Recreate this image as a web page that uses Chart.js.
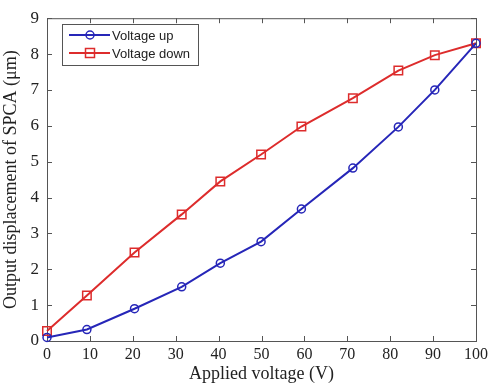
<!DOCTYPE html>
<html lang="en">
<head>
  <meta charset="UTF-8">
  <title>SPCA displacement</title>
  <script src="https://cdn.jsdelivr.net/npm/chart.js"></script>
  <style>
    html, body { margin: 0; padding: 0; background: #fff; }
    canvas { display: block; }
  </style>
</head>
<body>
  <canvas id="spcaChart" width="492" height="385"></canvas>

  <script>
    // applied voltage (V) at each measuring point
    const voltage = [0, 9.3, 20.4, 31.4, 40.4, 49.9, 59.3, 71.3, 81.9, 90.4, 100];
    // output displacement (um)
    const voltageUp = [0.1, 0.32, 0.9, 1.51, 2.17, 2.77, 3.68, 4.82, 5.97, 7.0, 8.3];
    const voltageDown = [0.28, 1.27, 2.47, 3.53, 4.45, 5.2, 5.98, 6.77, 7.54, 7.97, 8.3];
    const seriesNames = ['Voltage up', 'Voltage down'];
    const xTicks = [0, 10, 20, 30, 40, 50, 60, 70, 80, 90, 100];
    const yTicks = [0, 1, 2, 3, 4, 5, 6, 7, 8, 9];

    const BLUE = '#2626b8';
    const RED = '#dd2c2c';
    const FRAME = '#555';

    const toPoints = ys => ys.map((y, i) => ({ x: voltage[i], y: y }));

    // MATLAB style box with inward ticks on all four sides
    const frameTicks = {
      id: 'frameTicks',
      beforeDatasetsDraw(chart) {
        const { ctx, chartArea: a, scales: { x, y } } = chart;
        const len = 5;
        ctx.save();
        ctx.strokeStyle = FRAME;
        ctx.lineWidth = 1;
        ctx.strokeRect(a.left + 0.5, a.top + 0.5, a.right - a.left, a.bottom - a.top);
        ctx.beginPath();
        xTicks.forEach(v => {
          const px = Math.round(x.getPixelForValue(v)) + 0.5;
          ctx.moveTo(px, a.bottom); ctx.lineTo(px, a.bottom - len);
          ctx.moveTo(px, a.top); ctx.lineTo(px, a.top + len);
        });
        yTicks.forEach(v => {
          const py = Math.round(y.getPixelForValue(v)) + 0.5;
          ctx.moveTo(a.left, py); ctx.lineTo(a.left + len, py);
          ctx.moveTo(a.right, py); ctx.lineTo(a.right - len, py);
        });
        ctx.stroke();
        ctx.restore();
      }
    };

    // legend box in the upper left corner of the axes
    const boxLegend = {
      id: 'boxLegend',
      afterDraw(chart) {
        const { ctx } = chart;
        const bx = 62, by = 24, bw = 136, bh = 41;
        ctx.save();
        ctx.fillStyle = '#fff';
        ctx.fillRect(bx, by, bw, bh);
        ctx.strokeStyle = FRAME;
        ctx.lineWidth = 1;
        ctx.strokeRect(bx + 0.5, by + 0.5, bw, bh);
        ctx.font = '13px "Liberation Sans", Arial, sans-serif';
        ctx.textBaseline = 'middle';
        chart.data.datasets.forEach((ds, i) => {
          const ly = by + 11 + i * 18;
          ctx.strokeStyle = ds.borderColor;
          ctx.lineWidth = 2;
          ctx.beginPath();
          ctx.moveTo(bx + 7, ly); ctx.lineTo(bx + 48, ly);
          ctx.stroke();
          ctx.lineWidth = 1.5;
          ctx.beginPath();
          if (ds.pointStyle === 'rect') {
            ctx.rect(bx + 23.5, ly - 4.5, 9, 9);
          } else {
            ctx.arc(bx + 28, ly, 4, 0, Math.PI * 2);
          }
          ctx.stroke();
          ctx.fillStyle = '#222';
          ctx.fillText(ds.label, bx + 50, ly + 1);
        });
        ctx.restore();
      }
    };

    const serif = '"Liberation Serif", "Times New Roman", serif';

    new Chart(document.getElementById('spcaChart'), {
      type: 'line',
      data: {
        datasets: [
          {
            label: seriesNames[0],
            data: toPoints(voltageUp),
            borderColor: BLUE,
            backgroundColor: 'rgba(0,0,0,0)',
            borderWidth: 2,
            pointStyle: 'circle',
            pointRadius: 4,
            pointBorderWidth: 1.5,
            pointBorderColor: BLUE,
            pointBackgroundColor: 'rgba(0,0,0,0)',
            clip: false
          },
          {
            label: seriesNames[1],
            data: toPoints(voltageDown),
            borderColor: RED,
            backgroundColor: 'rgba(0,0,0,0)',
            borderWidth: 2,
            pointStyle: 'rect',
            pointRadius: 6,
            pointBorderWidth: 1.5,
            pointBorderColor: RED,
            pointBackgroundColor: 'rgba(0,0,0,0)',
            clip: false
          }
        ]
      },
      options: {
        responsive: false,
        animation: false,
        devicePixelRatio: 1,
        layout: { padding: { left: 0, right: 10, top: 14, bottom: 0 } },
        plugins: {
          legend: { display: false },
          tooltip: { enabled: false }
        },
        scales: {
          x: {
            type: 'linear',
            min: 0,
            max: 100,
            afterFit: s => { s.height = 44; },
            afterBuildTicks: s => { s.ticks = xTicks.map(v => ({ value: v })); },
            grid: { display: false, drawTicks: false },
            border: { display: false },
            ticks: { color: '#222', font: { family: serif, size: 16 }, padding: 4, maxRotation: 0 },
            title: {
              display: true,
              text: 'Applied voltage (V)',
              color: '#222',
              font: { family: serif, size: 18 },
              padding: { top: 0, bottom: 0 }
            }
          },
          y: {
            min: 0,
            max: 9,
            afterFit: s => { s.width = 47; },
            afterBuildTicks: s => { s.ticks = yTicks.map(v => ({ value: v })); },
            grid: { display: false, drawTicks: false },
            border: { display: false },
            ticks: { color: '#222', font: { family: serif, size: 17 }, padding: 8 },
            title: {
              display: true,
              text: 'Output displacement of SPCA (μm)',
              color: '#222',
              font: { family: serif, size: 18 },
              padding: { top: 0, bottom: 0 }
            }
          }
        }
      },
      plugins: [frameTicks, boxLegend]
    });
  </script>
</body>
</html>
